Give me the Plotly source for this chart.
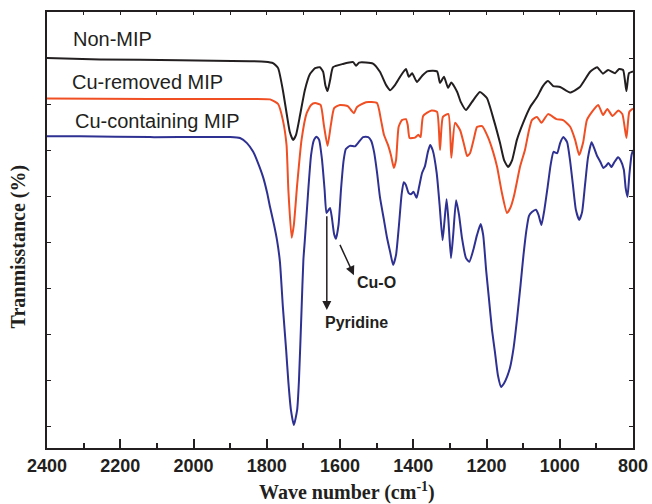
import plotly.graph_objects as go

# ---- data (wavenumber cm^-1, transmittance arbitrary %) ----
nonmip_wn = [2400, 2255, 2037, 1846, 1805, 1783, 1769, 1756, 1745, 1737, 1728, 1720, 1709, 1696, 1682, 1668,
             1655, 1646, 1640, 1634, 1627, 1619, 1592, 1564, 1556, 1548, 1510, 1491, 1474, 1463, 1450, 1436,
             1420, 1412, 1403, 1390, 1376, 1362, 1335, 1327, 1316, 1305, 1296, 1280, 1270, 1256, 1240, 1218,
             1199, 1180, 1163, 1152, 1141, 1130, 1117, 1100, 1081, 1062, 1046, 1032, 1018, 999, 972, 945,
             917, 898, 882, 868, 849, 838, 827, 818, 811, 800]
nonmip_t = [90.0, 89.7, 89.5, 89.3, 89.2, 88.9, 87.8, 83.0, 77.6, 73.9, 72.2, 73.3, 77.6, 83.0, 86.5, 87.8,
            88.0, 87.0, 84.1, 82.8, 85.2, 88.0, 88.7, 89.1, 88.3, 89.0, 88.8, 87.0, 84.1, 83.0, 84.1, 85.9,
            87.6, 85.9, 86.7, 84.8, 86.1, 87.1, 87.1, 84.6, 85.9, 83.5, 84.7, 82.6, 80.4, 78.7, 80.4, 82.6,
            81.3, 76.5, 71.5, 67.8, 66.3, 67.8, 72.2, 75.9, 79.3, 81.5, 83.9, 85.0, 83.9, 83.7, 82.5, 83.7,
            87.0, 88.0, 86.6, 87.4, 86.7, 87.6, 87.4, 82.8, 86.7, 87.1]

removed_wn = [2400, 2119, 1846, 1791, 1769, 1756, 1746, 1741, 1732, 1726, 1717, 1705, 1691, 1679, 1668, 1653,
              1644, 1634, 1625, 1616, 1600, 1578, 1570, 1562, 1554, 1529, 1499, 1488, 1480, 1469, 1461, 1453,
              1447, 1440, 1431, 1420, 1415, 1410, 1395, 1386, 1380, 1373, 1350, 1335, 1327, 1319, 1304, 1296,
              1286, 1272, 1261, 1253, 1245, 1234, 1226, 1212, 1196, 1182, 1171, 1158, 1144, 1134, 1125, 1108,
              1095, 1084, 1076, 1062, 1050, 1032, 1009, 991, 972, 958, 947, 936, 926, 912, 895, 882, 870,
              856, 840, 829, 818, 810, 800]
removed_t = [81.2, 81.1, 81.1, 81.0, 80.0, 76.5, 71.1, 61.3, 50.9, 53.7, 62.4, 72.2, 78.0, 79.8, 80.2, 79.8,
             75.4, 70.9, 75.4, 79.1, 79.8, 79.5, 78.7, 78.0, 79.3, 80.4, 80.2, 76.5, 73.3, 71.1, 68.9, 66.1,
             67.8, 75.0, 76.5, 76.7, 75.4, 72.6, 72.7, 73.3, 72.8, 77.4, 78.6, 78.3, 70.0, 77.2, 77.8, 68.3,
             75.9, 74.3, 71.1, 68.7, 69.3, 72.6, 75.0, 75.2, 72.8, 69.6, 66.3, 60.7, 56.3, 57.6, 60.0, 66.5,
             70.0, 74.3, 76.5, 77.2, 75.9, 77.8, 76.7, 76.5, 75.1, 72.2, 68.9, 71.7, 76.5, 78.3, 79.8, 77.6, 78.9,
             77.4, 78.6, 77.8, 72.6, 78.3, 79.0]

cu_wn = [2400, 2310, 2119, 1900, 1873, 1854, 1837, 1824, 1810, 1799, 1791, 1780, 1772, 1764, 1756, 1747,
         1741, 1734, 1726, 1717, 1712, 1705, 1700, 1696, 1687, 1679, 1671, 1664, 1657, 1649, 1642, 1637,
         1631, 1627, 1622, 1616, 1611, 1604, 1597, 1590, 1584, 1573, 1559, 1551, 1537, 1523, 1515, 1507,
         1499, 1491, 1480, 1472, 1463, 1455, 1447, 1439, 1432, 1426, 1420, 1413, 1406, 1399, 1391, 1384,
         1376, 1368, 1360, 1354, 1347, 1336, 1328, 1320, 1315, 1309, 1304, 1297, 1291, 1283, 1275, 1267,
         1256, 1247, 1236, 1226, 1216, 1209, 1201, 1193, 1185, 1177, 1169, 1160, 1152, 1144, 1136, 1126,
         1117, 1107, 1099, 1091, 1084, 1076, 1065, 1058, 1050, 1042, 1033, 1025, 1017, 1007, 999, 990,
         980, 972, 964, 956, 947, 939, 931, 923, 913, 906, 898, 889, 881, 874, 867, 859, 852, 841, 833,
         825, 820, 815, 810, 804, 800]
cu_t = [73.0, 73.0, 72.8, 72.8, 72.6, 71.5, 69.6, 67.2, 64.1, 60.7, 57.6, 53.7, 50.4, 45.7, 35.9, 26.5,
        19.6, 13.5, 10.2, 13.5, 20.0, 35.2, 46.1, 50.4, 60.9, 68.9, 72.2, 72.9, 72.2, 67.8, 61.3, 56.3,
        57.0, 57.4, 55.2, 51.7, 50.7, 53.7, 61.7, 67.8, 70.2, 70.9, 70.8, 71.5, 72.8, 72.8, 72.0, 69.6,
        65.2, 59.8, 54.8, 51.1, 47.8, 45.0, 47.2, 53.7, 60.2, 63.0, 62.4, 60.7, 60.4, 60.9, 59.6, 62.0,
        65.0, 66.5, 69.6, 71.1, 70.0, 65.0, 58.0, 50.4, 54.3, 59.3, 54.8, 46.5, 51.5, 59.1, 55.9, 50.9,
        46.5, 45.7, 48.3, 51.5, 53.9, 51.5, 43.9, 37.4, 30.9, 26.1, 21.1, 18.5, 19.3, 20.7, 22.6, 27.0,
        33.0, 40.7, 47.2, 52.6, 55.7, 56.5, 57.0, 55.9, 53.7, 57.0, 62.0, 66.7, 69.6, 69.3, 71.5, 72.8,
        71.7, 67.8, 62.4, 57.0, 54.8, 56.5, 62.4, 68.3, 71.7, 70.4, 68.7, 67.4, 66.1, 66.5, 67.2, 66.3, 67.2, 68.4, 67.6,
        65.7, 61.7, 59.8, 64.6, 68.9, 70.0]

series_names = ["Non-MIP", "Cu-removed MIP", "Cu-containing MIP"]
series_colors = ["#231f20", "#f04e23", "#2e3192"]
x_ticks = [2400, 2200, 2000, 1800, 1600, 1400, 1200, 1000, 800]

AX = "#231f20"
X_RANGE = [2400, 800]
Y_RANGE = [5.22, 100]

fig = go.Figure()
for wn, t, name, col in zip([nonmip_wn, removed_wn, cu_wn], [nonmip_t, removed_t, cu_t],
                            series_names, series_colors):
    fig.add_trace(go.Scatter(x=wn, y=t, mode="lines", name=name,
                             line=dict(color=col, width=2, shape="spline", smoothing=0.5),
                             showlegend=False, hoverinfo="skip"))

# dummy trace for top tick axis
fig.add_trace(go.Scatter(x=[], y=[], xaxis="x2", yaxis="y", showlegend=False))

fig.update_layout(
    template="none",
    width=652, height=504, autosize=False,
    margin=dict(l=47, r=19, t=12, b=56, pad=0),
    paper_bgcolor="white", plot_bgcolor="white",
    xaxis=dict(range=X_RANGE, tickvals=x_ticks, ticktext=[str(v) for v in x_ticks],
               automargin=False,
               ticks="inside", ticklen=9, tickwidth=1.5, tickcolor=AX,
               showline=True, linewidth=2, linecolor=AX, mirror=True,
               showgrid=False, zeroline=False,
               tickfont=dict(family="Liberation Sans", size=18, color=AX, weight="bold"),
               minor=dict(dtick=100, tick0=800, ticks="inside", ticklen=5, tickwidth=1.5, tickcolor=AX,
                          showgrid=False)),
    xaxis2=dict(range=X_RANGE, overlaying="x", side="top", anchor="y", automargin=False,
                dtick=100, tick0=800, ticks="inside", ticklen=3, tickwidth=1.2, tickcolor=AX,
                showticklabels=False, showline=False, showgrid=False, zeroline=False),
    yaxis=dict(range=Y_RANGE, dtick=10, tick0=0, ticks="inside", ticklen=4, tickwidth=1.2, tickcolor=AX,
               automargin=False,
               showticklabels=False, showline=True, linewidth=2, linecolor=AX, mirror="ticks",
               showgrid=False, zeroline=False),
)

ann = []
label_pos = [(2335, 94.1), (2337, 84.8), (2329, 76.2)]
for (lx, ly), name in zip(label_pos, series_names):
    ann.append(dict(x=lx, y=ly, xref="x", yref="y", text=name, showarrow=False,
                    xanchor="left", yanchor="middle",
                    font=dict(family="Liberation Sans", size=20, color=AX)))

# arrows
ann.append(dict(x=1636, y=35.2, ax=1636, ay=55.9, xref="x", yref="y", axref="x", ayref="y",
                text="", showarrow=True, arrowhead=2, arrowsize=1.2, arrowwidth=1.5, arrowcolor=AX))
ann.append(dict(x=1562, y=42.8, ax=1602, ay=49.7, xref="x", yref="y", axref="x", ayref="y",
                text="", showarrow=True, arrowhead=2, arrowsize=1.2, arrowwidth=1.5, arrowcolor=AX))
ann.append(dict(x=1499, y=41.1, xref="x", yref="y", text="Cu-O", showarrow=False,
                font=dict(family="Liberation Sans", size=16, color=AX, weight="bold")))
ann.append(dict(x=1554, y=32.4, xref="x", yref="y", text="Pyridine", showarrow=False,
                font=dict(family="Liberation Sans", size=16, color=AX, weight="bold")))

# axis titles
ann.append(dict(x=-0.049, y=0.463, xref="paper", yref="paper", text="Tranmisstance (%)",
                textangle=-90, showarrow=False, xanchor="center", yanchor="middle",
                font=dict(family="Liberation Serif", size=20, color=AX, weight="bold")))
ann.append(dict(x=0.512, y=-0.1, xref="paper", yref="paper", text="Wave number (cm<sup>-1</sup>)",
                showarrow=False, xanchor="center", yanchor="middle",
                font=dict(family="Liberation Serif", size=20, color=AX, weight="bold")))

fig.update_layout(annotations=ann)
fig.write_html("out.html")
